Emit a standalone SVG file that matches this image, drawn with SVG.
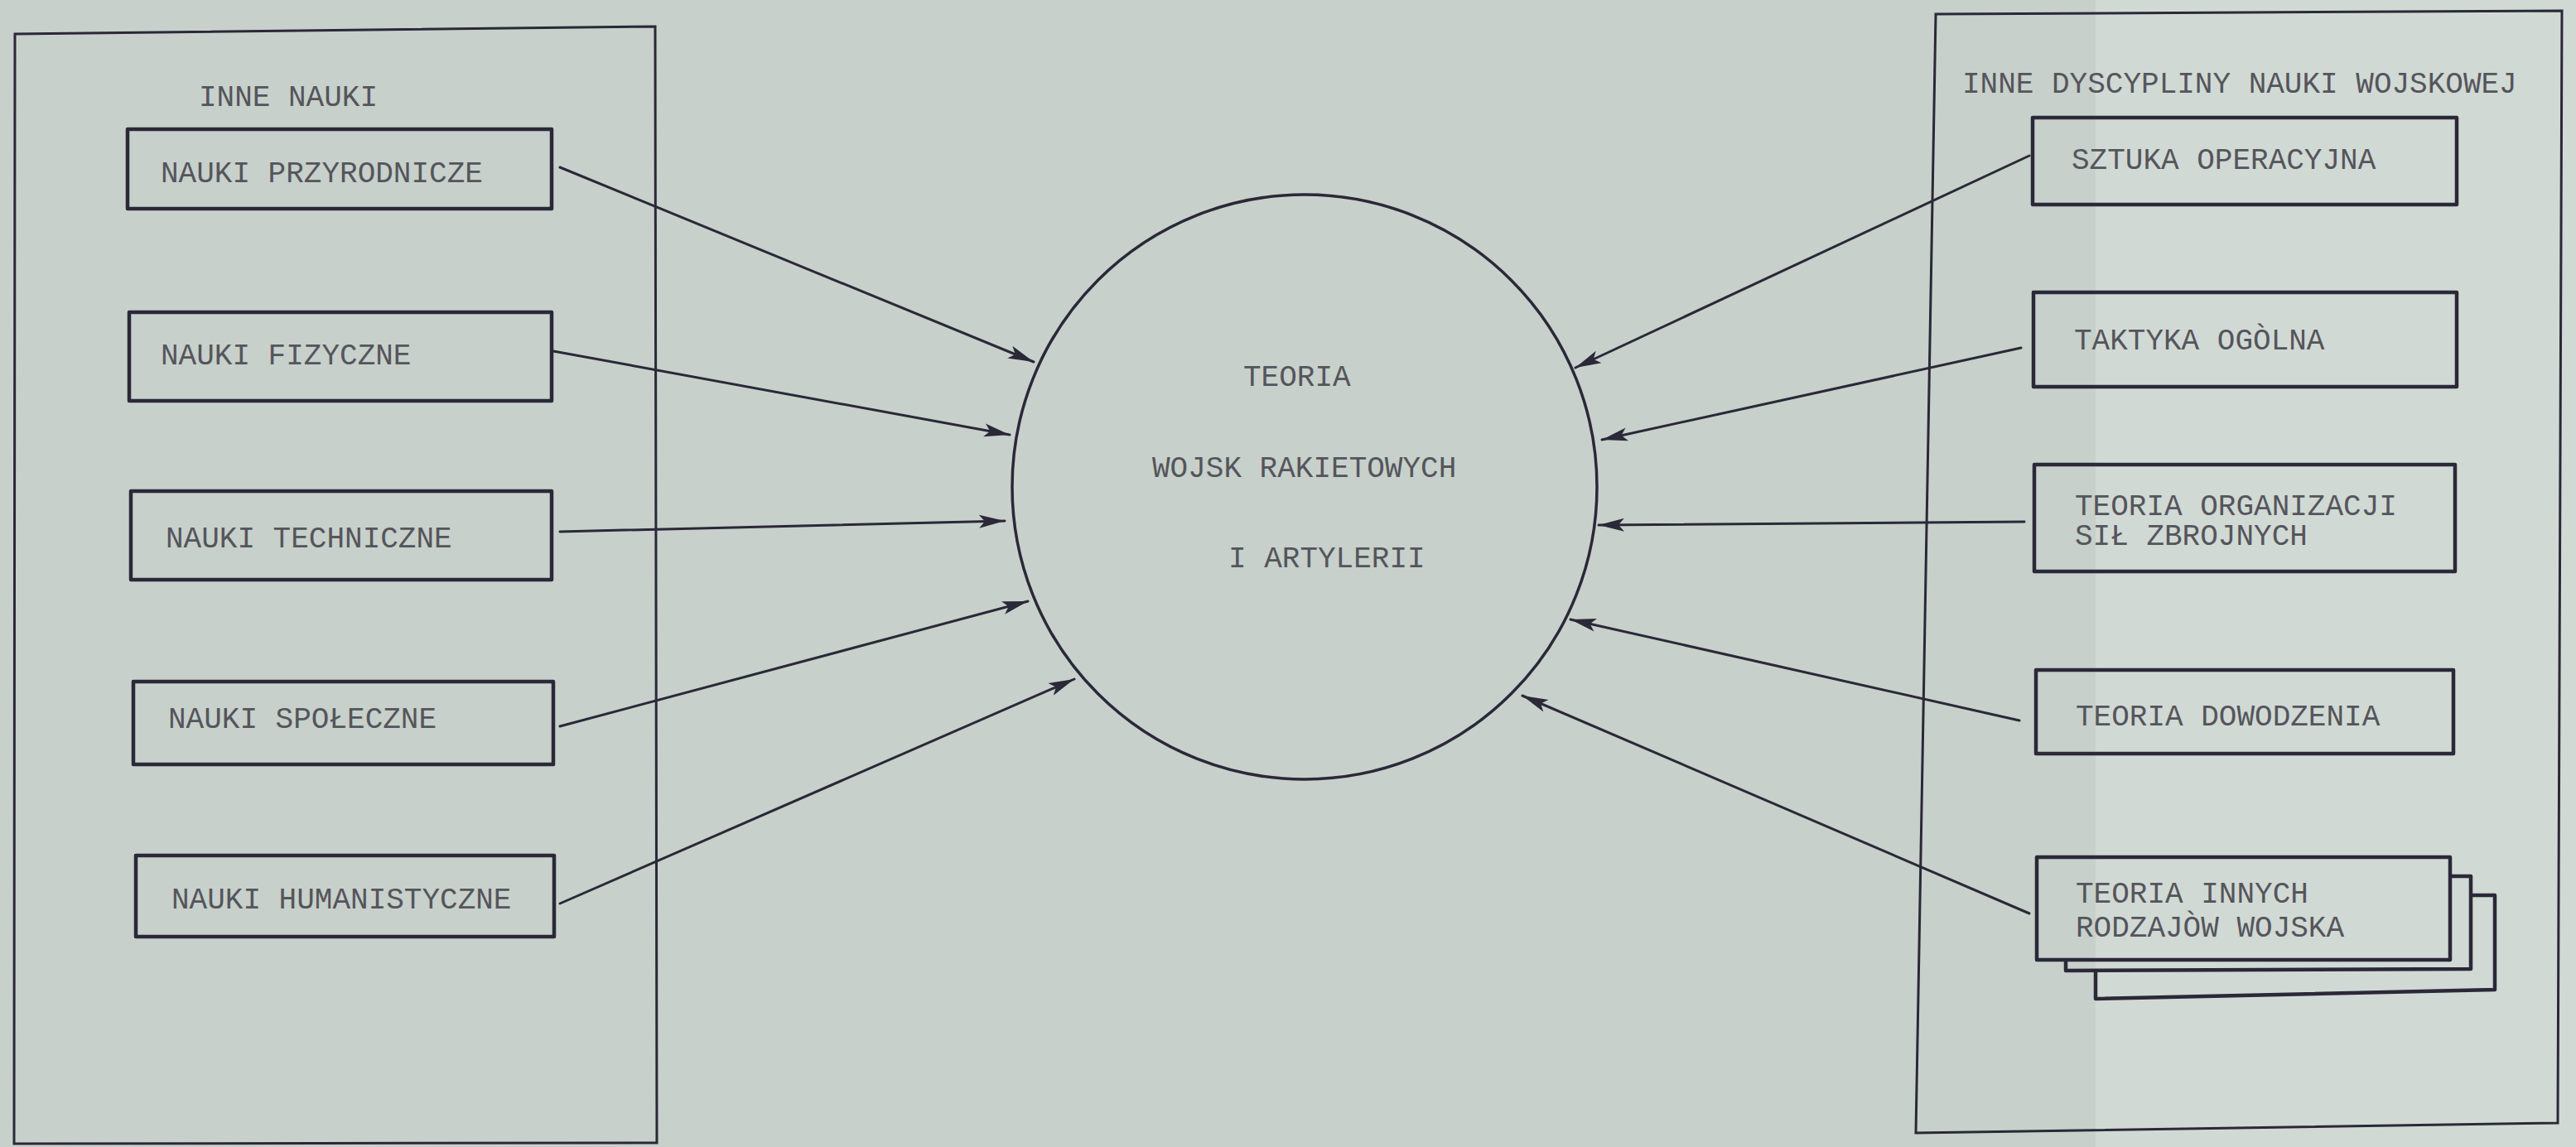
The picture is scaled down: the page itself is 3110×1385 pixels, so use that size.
<svg xmlns="http://www.w3.org/2000/svg" width="3110" height="1385" viewBox="0 0 3110 1385">
<style>
.frame{fill:none;stroke:#2b2838;stroke-width:3}
.box{fill:none;stroke:#2b2838;stroke-width:4.5;stroke-linejoin:round}
.circ{fill:none;stroke:#2b2838;stroke-width:3.5}
.t{font-family:"Liberation Mono","Courier New",monospace;font-size:36px;fill:#55555c}
.arr{fill:none;stroke:#2b2838;stroke-width:3;stroke-linecap:round;marker-end:url(#ah)}
</style>
<defs>
<marker id="ah" markerUnits="userSpaceOnUse" markerWidth="34" markerHeight="20" refX="31" refY="10" orient="auto">
<path d="M0,2 L31,10 L0,18 L7,10 z" fill="#2b2838"/>
</marker>
</defs>
<rect x="0" y="0" width="3110" height="1385" fill="#c7d0ca"/>
<rect x="2530" y="0" width="580" height="1385" fill="#d1d9d4"/>
<g id="frame-left">
<polygon class="frame" points="18,41 791,32 793,1380 17,1381"/>
<text class="t" x="240" y="128">INNE NAUKI</text>
</g>
<g id="frame-right">
<polygon class="frame" points="2337,17 3093,13 3088,1356 2313,1368"/>
<text class="t" x="2369" y="112">INNE DYSCYPLINY NAUKI WOJSKOWEJ</text>
</g>
<g id="n-przyrodnicze">
<rect class="box" x="154" y="156" width="512" height="96"/>
<text class="t" x="194" y="220">NAUKI PRZYRODNICZE</text>
</g>
<g id="n-fizyczne">
<rect class="box" x="156" y="377" width="510" height="107"/>
<text class="t" x="194" y="440">NAUKI FIZYCZNE</text>
</g>
<g id="n-techniczne">
<rect class="box" x="158" y="593" width="508" height="107"/>
<text class="t" x="200" y="661">NAUKI TECHNICZNE</text>
</g>
<g id="n-spoleczne">
<rect class="box" x="161" y="823" width="507" height="100"/>
<text class="t" x="203" y="879">NAUKI SPOŁECZNE</text>
</g>
<g id="n-humanistyczne">
<rect class="box" x="164" y="1033" width="505" height="98"/>
<text class="t" x="207" y="1097">NAUKI HUMANISTYCZNE</text>
</g>
<g id="center">
<circle class="circ" cx="1575" cy="588" r="353"/>
<text class="t" x="1501" y="466">TEORIA</text>
<text class="t" x="1391" y="576">WOJSK RAKIETOWYCH</text>
<text class="t" x="1483" y="685">I ARTYLERII</text>
</g>
<g id="r-sztuka">
<rect class="box" x="2454" y="142" width="512" height="105"/>
<text class="t" x="2501" y="204">SZTUKA OPERACYJNA</text>
</g>
<g id="r-taktyka">
<rect class="box" x="2455" y="353" width="511" height="114"/>
<text class="t" x="2504" y="422">TAKTYKA OGÒLNA</text>
</g>
<g id="r-organizacji">
<rect class="box" x="2456" y="561" width="508" height="129"/>
<text class="t" x="2505" y="622">TEORIA ORGANIZACJI</text>
<text class="t" x="2505" y="658">SIŁ ZBROJNYCH</text>
</g>
<g id="r-dowodzenia">
<rect class="box" x="2458" y="809" width="504" height="101"/>
<text class="t" x="2506" y="876">TEORIA DOWODZENIA</text>
</g>
<g id="r-inne-rodzaje">
<polyline class="box" points="2530,1172 2530,1206 3012,1195 3012,1081 2983,1081"/>
<polyline class="box" points="2494,1159 2494,1172 2983,1170 2983,1058 2958,1058"/>
<rect class="box" x="2459" y="1035" width="499" height="124"/>
<text class="t" x="2506" y="1090">TEORIA INNYCH</text>
<text class="t" x="2506" y="1131">RODZAJÒW WOJSKA</text>
</g>
<g id="connectors">
<line class="arr" x1="676" y1="202" x2="1248" y2="437"/>
<line class="arr" x1="668" y1="424" x2="1219" y2="525"/>
<line class="arr" x1="676" y1="642" x2="1213" y2="629"/>
<line class="arr" x1="676" y1="877" x2="1241" y2="726"/>
<line class="arr" x1="676" y1="1091" x2="1297" y2="820"/>
<line class="arr" x1="2450" y1="188" x2="1902" y2="444"/>
<line class="arr" x1="2440" y1="420" x2="1934" y2="531"/>
<line class="arr" x1="2444" y1="630" x2="1930" y2="634"/>
<line class="arr" x1="2438" y1="870" x2="1896" y2="748"/>
<line class="arr" x1="2450" y1="1103" x2="1838" y2="840"/>
</g>
</svg>
